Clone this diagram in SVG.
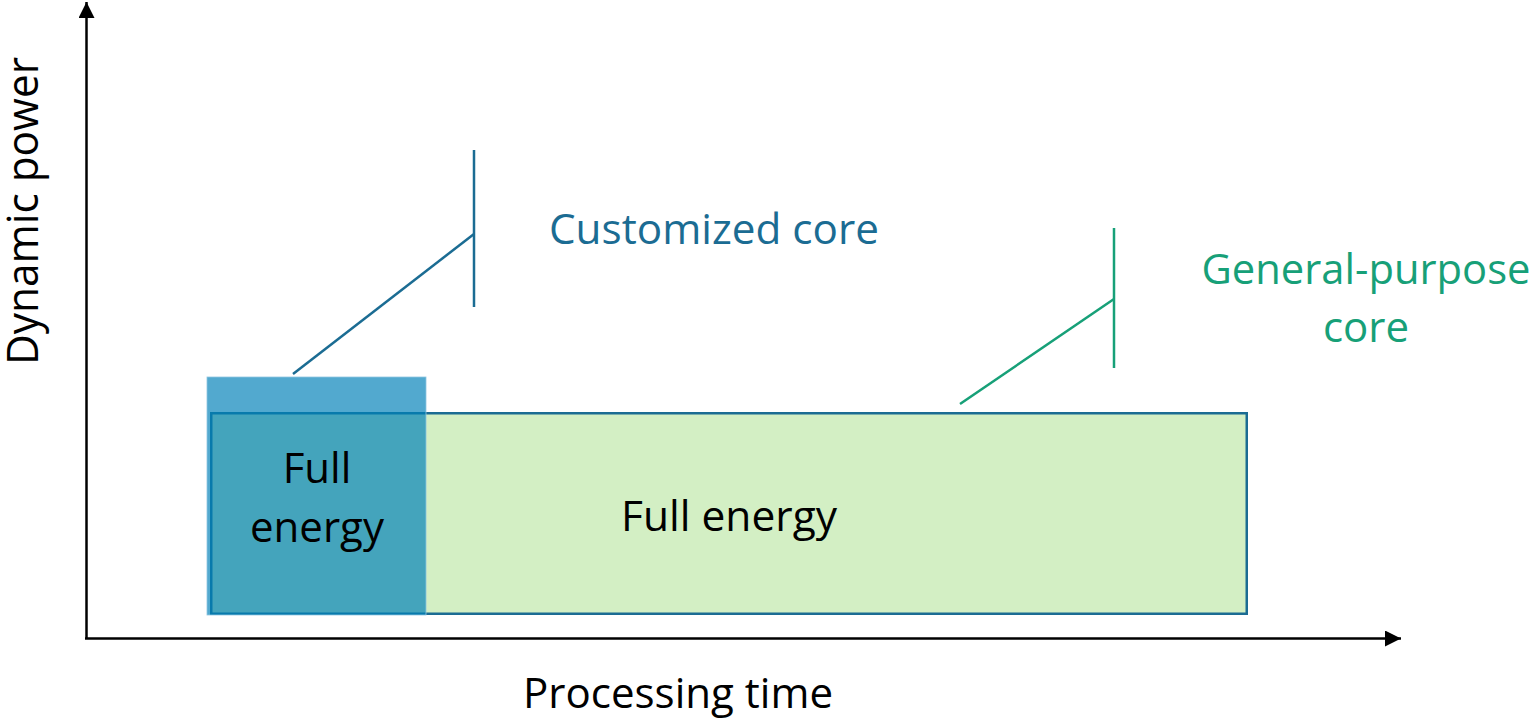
<svg xmlns="http://www.w3.org/2000/svg" width="1534" height="720" viewBox="0 0 1534 720">
  <defs>
    <style>
      text { font-family: "Open Sans", "Liberation Sans", sans-serif; font-size: 42px; }
      .dark { fill: #000000; }
      .blueTxt { fill: #1B6C93; }
      .greenTxt { fill: #17A078; }
      .axis { stroke: #000000; stroke-width: 2.5; fill: none; }
      .callBlue { stroke: #1B6C93; stroke-width: 2.5; fill: none; }
      .callGreen { stroke: #17A078; stroke-width: 2.5; fill: none; }
    </style>
    <marker id="arrow" viewBox="0 0 16 16" refX="16" refY="8" markerWidth="16" markerHeight="16" markerUnits="userSpaceOnUse" orient="auto">
      <path d="M0,0 L16,8 L0,16 Z" fill="#000000"/>
    </marker>
  </defs>
  <rect width="1534" height="720" fill="#ffffff"/>

  <g id="axes">
    <line class="axis" x1="86.5" y1="639" x2="86.5" y2="2" marker-end="url(#arrow)"/>
    <line class="axis" x1="85" y1="638.5" x2="1401" y2="638.5" marker-end="url(#arrow)"/>
    <text class="dark" transform="translate(38,211) rotate(-90)" text-anchor="middle" style="font-size:44px" textLength="308" lengthAdjust="spacingAndGlyphs">Dynamic power</text>
    <text class="dark" x="678" y="708" text-anchor="middle" textLength="310" lengthAdjust="spacingAndGlyphs">Processing time</text>
  </g>

  <g id="general-purpose-bar">
    <rect x="211.25" y="413.25" width="1035.5" height="200.5" fill="#D3EFC4" stroke="#1B6C93" stroke-width="2.5"/>
    <text class="dark" x="729" y="531" text-anchor="middle" textLength="216" lengthAdjust="spacingAndGlyphs">Full energy</text>
  </g>

  <g id="customized-bar">
    <rect x="207" y="377" width="219" height="238" fill="#0080B8" fill-opacity="0.68" stroke="#8FC6E0" stroke-width="0.8"/>
    <text class="dark" x="317" y="483" text-anchor="middle">Full</text>
    <text class="dark" x="317" y="542" text-anchor="middle">energy</text>
  </g>

  <g id="connectors">
    <line class="callBlue" x1="293" y1="374" x2="474" y2="234"/>
    <line class="callBlue" x1="474" y1="150" x2="474" y2="307"/>
    <line class="callGreen" x1="960" y1="404" x2="1114" y2="299"/>
    <line class="callGreen" x1="1114" y1="228" x2="1114" y2="368"/>
  </g>

  <g id="label-customized">
    <text class="blueTxt" x="549" y="244" textLength="330" lengthAdjust="spacingAndGlyphs">Customized core</text>
  </g>

  <g id="label-general">
    <text class="greenTxt" x="1366" y="284" text-anchor="middle" textLength="329" lengthAdjust="spacingAndGlyphs">General-purpose</text>
    <text class="greenTxt" x="1366" y="342" text-anchor="middle">core</text>
  </g>
</svg>
